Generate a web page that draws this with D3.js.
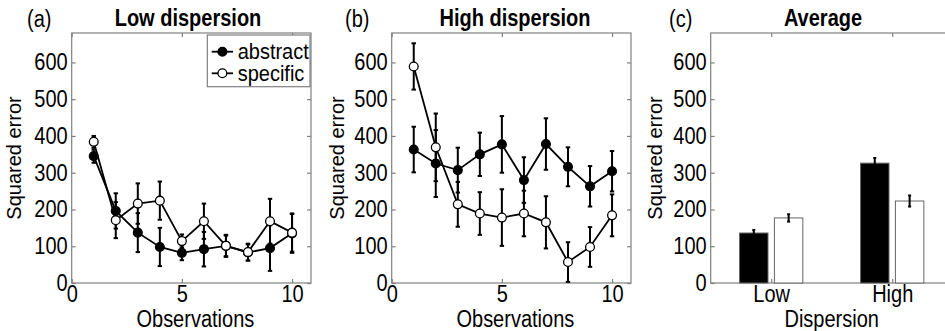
<!DOCTYPE html>
<html><head><meta charset="utf-8">
<script src="https://cdn.jsdelivr.net/npm/d3@7"></script>
<style>body{margin:0;background:#fff} svg text{font-family:"Liberation Sans",Arial,sans-serif;fill:#000}</style>
</head><body><svg id="c" width="945" height="331"></svg>
<script>
const observations = [1,2,3,4,5,6,7,8,9,10];
const lowAbstract = [345,196,137,98,82,92,101,83,95,135];
const lowAbstractErr = [18,48,53,52,20,47,28,22,62,53];
const lowSpecific = [384,171,216,224,114,168,101,84,168,137];
const lowSpecificErr = [16,49,55,52,18,48,30,23,61,52];
const highAbstract = [363,325,307,350,377,280,378,316,263,304];
const highAbstractErr = [62,91,61,59,77,62,70,53,55,55];
const highSpecific = [589,369,214,189,178,189,165,57,98,184];
const highSpecificErr = [63,92,61,58,77,62,71,54,54,57];
const dispersionLevels = ["Low","High"];
const avgAbstract = [136,326];
const avgAbstractErr = [8,14];
const avgSpecific = [177,223];
const avgSpecificErr = [10,15];
const yTicks = [0,100,200,300,400,500,600];
const xTicks = [0,5,10];
const seriesNames = ["abstract","specific"];
const panelTitles = ["Low dispersion","High dispersion","Average"];
const panelLetters = ["(a)","(b)","(c)"];

const svg = d3.select("#c");
const FS = 20, SY = 1.15;
const TOP = 33, BOT = 283;
const axisColor = "#808080";

function styl(a) {
  a.select(".domain").remove();
  a.selectAll(".tick line").attr("stroke",axisColor).attr("stroke-width",1.2);
  a.selectAll("text").attr("font-size",FS).attr("font-family","Liberation Sans, Arial, sans-serif")
    .attr("fill","#000").attr("transform",`scale(1,${SY})`);
}
function frame(g, x, y, xt, xFmt) {
  const [x0,x1] = x.range();
  g.append("rect").attr("x",x0).attr("y",TOP).attr("width",x1-x0).attr("height",BOT-TOP)
    .attr("fill","none").attr("stroke",axisColor).attr("stroke-width",1.2);
  g.append("g").attr("transform",`translate(0,${BOT})`)
    .call(d3.axisBottom(x).tickValues(xt).tickFormat(xFmt).tickSizeInner(-4).tickSizeOuter(0).tickPadding(2)).call(styl);
  g.append("g").attr("transform",`translate(0,${TOP})`)
    .call(d3.axisTop(x).tickValues(xt).tickFormat("").tickSizeInner(-4).tickSizeOuter(0)).call(styl);
  g.append("g").attr("transform",`translate(${x0},0)`)
    .call(d3.axisLeft(y).tickValues(yTicks).tickSizeInner(-4).tickSizeOuter(0).tickPadding(4)).call(styl);
  g.append("g").attr("transform",`translate(${x1},0)`)
    .call(d3.axisRight(y).tickValues(yTicks).tickFormat("").tickSizeInner(-4).tickSizeOuter(0)).call(styl);
}
function label(g, x, y, txt, opts={}) {
  const t = g.append("text").attr("font-size",FS).text(txt).attr("text-anchor",opts.anchor||"middle");
  if (opts.bold) t.attr("font-weight","bold");
  if (opts.rot) t.attr("transform",`translate(${x},${y}) rotate(-90)`);
  else t.attr("transform",`translate(${x},${y}) scale(1,${opts.sy||SY})`);
  return t;
}
function errBars(g, x, y, xs, vals, errs, cap, sw) {
  const eg = g.append("g").attr("stroke","#000").attr("stroke-width",sw);
  xs.forEach((o,i) => {
    const cx = x(o), yt = y(vals[i]+errs[i]), yb = y(vals[i]-errs[i]);
    eg.append("line").attr("x1",cx).attr("x2",cx).attr("y1",yt).attr("y2",yb);
    eg.append("line").attr("x1",cx-cap).attr("x2",cx+cap).attr("y1",yt).attr("y2",yt);
    eg.append("line").attr("x1",cx-cap).attr("x2",cx+cap).attr("y1",yb).attr("y2",yb);
  });
}
function linePanel(k, xr, ylabX, letterX, titleX, dA, eA, dS, eS) {
  const g = svg.append("g");
  const x = d3.scaleLinear().domain([0,10.86]).range(xr);
  const y = d3.scaleLinear().domain([0,680]).range([BOT,TOP]);
  frame(g, x, y, xTicks, d3.format("d"));
  const series = [{v:dA,e:eA,fill:"#000"},{v:dS,e:eS,fill:"#fff"}];
  const ln = d3.line().x((d,i)=>x(observations[i])).y(d=>y(d));
  series.forEach(s => errBars(g, x, y, observations, s.v, s.e, 2.2, 2));
  series.forEach(s => {
    g.append("path").datum(s.v).attr("d",ln).attr("fill","none").attr("stroke","#000").attr("stroke-width",1.8);
  });
  series.forEach(s => {
    g.append("g").selectAll("circle").data(s.v).join("circle")
      .attr("cx",(d,i)=>x(observations[i])).attr("cy",d=>y(d)).attr("r",4.4)
      .attr("fill",s.fill).attr("stroke","#000").attr("stroke-width",1.3);
  });
  label(g, letterX, 27, panelLetters[k], {anchor:"start"});
  label(g, titleX, 26, panelTitles[k], {bold:true});
  label(g, ylabX, 158, "Squared error", {rot:true});
  label(g, (xr[0]+xr[1])/2 + 4, 327, "Observations");
  return {g,x,y};
}
const pa = linePanel(0, [71.7,311], 20.5, 27, 188, lowAbstract,lowAbstractErr,lowSpecific,lowSpecificErr);
const pb = linePanel(1, [391.7,631], 343.5, 345, 515, highAbstract,highAbstractErr,highSpecific,highSpecificErr);

// legend in panel a
(function(){
  const g = pa.g.append("g");
  g.append("rect").attr("x",207.3).attr("y",35).attr("width",102.7).attr("height",51.7)
    .attr("fill","#fff").attr("stroke",axisColor).attr("stroke-width",1.2);
  const fills = ["#000","#fff"], rows = [51.7,73.3];
  seriesNames.forEach((n,i) => {
    g.append("line").attr("x1",211.7).attr("x2",233).attr("y1",rows[i]).attr("y2",rows[i])
      .attr("stroke","#000").attr("stroke-width",1.8);
    g.append("circle").attr("cx",222.4).attr("cy",rows[i]).attr("r",4.4)
      .attr("fill",fills[i]).attr("stroke","#000").attr("stroke-width",1.3);
    label(g, 237.7, rows[i]+7.5, n, {anchor:"start", sy:1.08});
  });
})();

// panel c
(function(){
  const g = svg.append("g");
  const x = d3.scaleLinear().domain([0.5,2.5]).range([710.7,952.7]);
  const y = d3.scaleLinear().domain([0,680]).range([BOT,TOP]);
  const cats = dispersionLevels.map((d,i)=>i+1);
  frame(g, x, y, cats, (d,i)=>dispersionLevels[i]);
  const off = 0.144, hw = 0.1175;
  const groups = [{v:avgAbstract,e:avgAbstractErr,fill:"#000",o:-off},{v:avgSpecific,e:avgSpecificErr,fill:"#fff",o:off}];
  groups.forEach(s => {
    g.append("g").selectAll("rect").data(s.v).join("rect")
      .attr("x",(d,i)=>x(cats[i]+s.o-hw)).attr("width",(d,i)=>x(cats[i]+s.o+hw)-x(cats[i]+s.o-hw))
      .attr("y",d=>y(d)).attr("height",d=>y(0)-y(d))
      .attr("fill",s.fill).attr("stroke","#666").attr("stroke-width",1);
  });
  groups.forEach(s => errBars(g, x, y, cats.map(c=>c+s.o), s.v, s.e, 1.5, 2));
  label(g, 669, 27, panelLetters[2], {anchor:"start"});
  label(g, 823, 26, panelTitles[2], {bold:true});
  label(g, 661.5, 158, "Squared error", {rot:true});
  label(g, (710.7+952.7)/2, 327, "Dispersion");
})();
</script></body></html>
